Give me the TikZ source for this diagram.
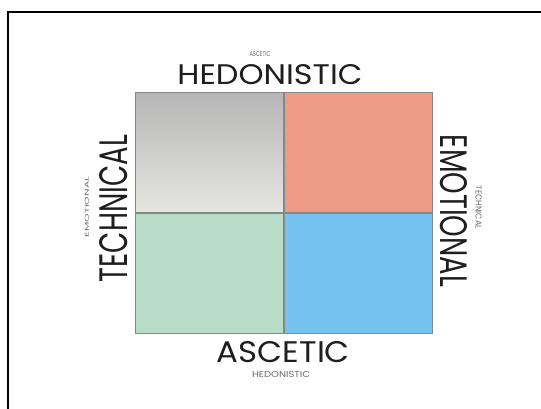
\documentclass[tikz,border=0pt]{standalone}
\usepackage{fontspec}
\setmainfont{Poppins}
\usepackage{graphicx}
\usetikzlibrary{positioning}

\newlength{\pxu}\setlength{\pxu}{0.75pt}
\newcommand{\fitword}[3]{\resizebox{#1\pxu}{#2\pxu}{#3}}

\definecolor{ink}{RGB}{30,30,30}
\definecolor{gridline}{RGB}{135,135,135}
\definecolor{graytop}{RGB}{182,182,182}
\definecolor{graymid}{RGB}{222,222,220}
\definecolor{graybot}{RGB}{229,229,226}
\definecolor{salmon}{RGB}{238,155,133}
\definecolor{mint}{RGB}{183,221,200}
\definecolor{sky}{RGB}{116,194,238}

\begin{document}
\begin{tikzpicture}[x=0.75pt,y=-0.75pt,
  quad/.style={draw=gridline,line width=0.8pt,minimum width=111pt,minimum height=90pt,inner sep=0pt,anchor=north west},
  axisword/.style={inner sep=0pt,text=ink},
  hintword/.style={inner sep=0pt,text=ink!65}]
  \useasboundingbox (0,0) rectangle (541,409);
  \fill[white] (0,0) rectangle (541,409);
  % frame
  \coordinate (framefoot) at (8,409);
  \coordinate (frameend) at (541,12);
  \draw[line width=1.5pt] (framefoot) |- (frameend);
  % quadrants
  \node[quad,top color=graytop,middle color=graymid,bottom color=graybot] (hedtech) at (135,92) {};
  \node[quad,fill=salmon,right=0pt of hedtech] (hedemo) {};
  \node[quad,fill=mint,below=0pt of hedtech] (asctech) {};
  \node[quad,fill=sky,right=0pt of asctech] (ascemo) {};
  % top labels
  \node[axisword] (hedonistic) at (270,75) {\fitword{185}{20}{HEDONISTIC}};
  \node[hintword] (ascetichint) at (260,54) {\fitword{21}{5}{ASCETIC}};
  % bottom labels
  \node[axisword] (ascetic) at (283.5,352) {\fitword{133}{21}{ASCETIC}};
  \node[hintword] (hedonistichint) at (281,374.5) {\fitword{58}{6}{HEDONISTIC}};
  % left labels
  \node[axisword,rotate=90] (technical) at (114,208.5) {\fitword{147}{28}{TECHNICAL}};
  \node[hintword,rotate=90] (emotionalhint) at (87,207) {\fitword{60}{4}{EMOTIONAL}};
  % right labels
  \node[axisword,rotate=-90] (emotional) at (453.5,211) {\fitword{152}{27}{EMOTIONAL}};
  \node[hintword,rotate=-90] (technicalhint) at (478.5,207.5) {\fitword{43}{6}{TECHNICAL}};
\end{tikzpicture}
\end{document}
